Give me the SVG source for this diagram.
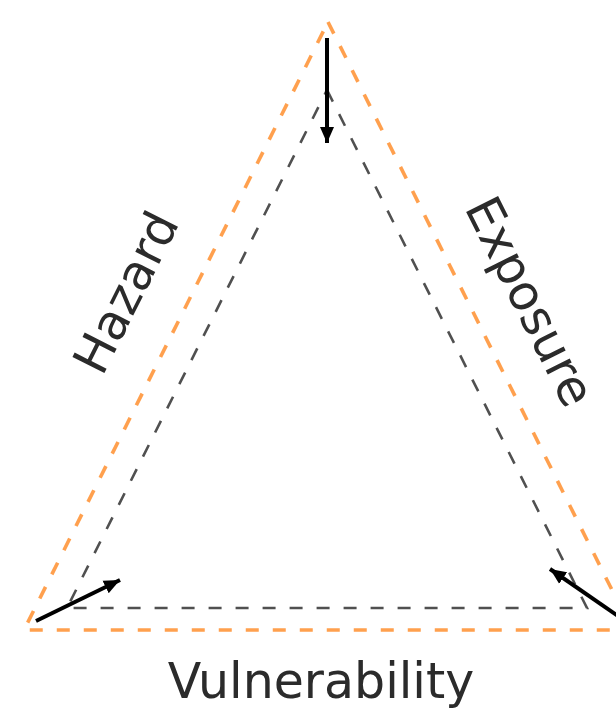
<svg xmlns="http://www.w3.org/2000/svg" width="616" height="709" viewBox="0 0 616 709">
  <style>
    .outer { fill: none; stroke: #ffa04e; stroke-width: 3.6; stroke-dasharray: 13 14; }
    .inner { fill: none; stroke: #505050; stroke-width: 2.6; stroke-dasharray: 13 14; }
    .arrow { fill: none; stroke: #000000; stroke-width: 4; marker-end: url(#head); }
    .label { font-family: "DejaVu Sans", sans-serif; font-size: 49px; fill: #2b2b2b; text-anchor: middle; }
  </style>
  <defs>
    <marker id="head" markerUnits="userSpaceOnUse" markerWidth="18" markerHeight="16" refX="16" refY="8" orient="auto">
      <path d="M0,1 L16,8 L0,15 z" fill="#000000"/>
    </marker>
  </defs>
  <rect width="616" height="709" fill="#ffffff"/>
  <g id="outer-triangle">
    <polygon class="outer" points="328,22 632,630 24,630"/>
  </g>
  <g id="inner-triangle">
    <polygon class="inner" points="327,90 587,608 67,608"/>
  </g>
  <g id="connectors">
    <line class="arrow" x1="327" y1="38" x2="327" y2="143"/>
    <line class="arrow" x1="36" y1="621" x2="120" y2="580"/>
    <line class="arrow" x1="618" y1="616" x2="550" y2="569"/>
  </g>
  <g id="hazard">
    <text class="label" transform="translate(125,292) rotate(-63.3)" x="0" y="18">Hazard</text>
  </g>
  <g id="exposure">
    <text class="label" transform="translate(531,301) rotate(63.3)" x="0" y="18">Exposure</text>
  </g>
  <g id="vulnerability">
    <text class="label" x="321" y="698">Vulnerability</text>
  </g>
</svg>
